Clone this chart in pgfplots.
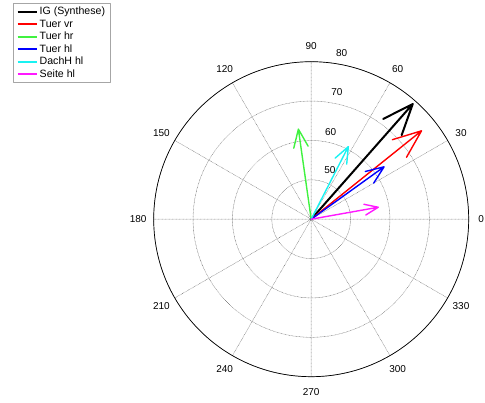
\documentclass[border=0pt]{standalone}
\usepackage{pgfplots}
\pgfplotsset{compat=1.18}
\usepgfplotslibrary{polar}
\usepackage{fontspec}
\setmainfont{Liberation Sans}
\definecolor{mgreen}{rgb}{0.25,0.95,0.25}
\definecolor{mcyan}{rgb}{0.1,0.95,0.95}
\definecolor{mmag}{rgb}{1,0.1,1}
\definecolor{mred}{rgb}{1,0,0}
\definecolor{mblue}{rgb}{0,0,1}
\begin{document}
\begin{tikzpicture}[x=1pt,y=1pt]
\coordinate (L) at (-298.2,215.7);
\begin{polaraxis}[
  at={(0pt,0pt)}, anchor=center,
  scale only axis, width=315pt, height=315pt,
  xmin=0, xmax=360, ymin=0, ymax=40,
  xtick={0,30,...,330}, xticklabels={},
  ytick={10,20,30,40}, yticklabels={},
  xmajorgrids, ymajorgrids,
  major grid style={densely dotted, black!55, line width=0.5pt},
  major tick length=0pt,
  axis line style={black, line width=0.7pt},
  y axis line style={draw=none},
  clip=false,
  legend style={at={(L)}, anchor=north west, draw=black!35,
    font=\fontsize{10.6}{11}\selectfont, row sep=-0.6pt, inner xsep=3.5pt, inner ysep=1.5pt,
    cells={anchor=west, inner xsep=3.5pt}},
  legend image code/.code={\draw[#1, line width=2pt] (0pt,0pt) -- (19pt,0pt);},
  line join=round, line cap=round,
]
\addplot[black, line width=2pt] coordinates {(0,0) (48.6,39.0) (54.3,31.36) (48.6,39.0) (42.9,31.36)};
\addlegendentry{IG (Synthese)}
\addplot[mred, line width=1.4pt] coordinates {(0,0) (38.7,35.9) (44.4,28.86) (38.7,35.9) (33.0,28.86)};
\addlegendentry{Tuer vr}
\addplot[mgreen, line width=1.4pt] coordinates {(0,0) (98.1,23.1) (103.8,18.57) (98.1,23.1) (92.4,18.57)};
\addlegendentry{Tuer hr}
\addplot[mblue, line width=1.4pt] coordinates {(0,0) (35.7,22.8) (41.4,18.33) (35.7,22.8) (30.0,18.33)};
\addlegendentry{Tuer hl}
\addplot[mcyan, line width=1.4pt] coordinates {(0,0) (62.9,20.7) (68.6,16.64) (62.9,20.7) (57.2,16.64)};
\addlegendentry{DachH hl}
\addplot[mmag, line width=1.4pt] coordinates {(0,0) (10.1,17.3) (15.8,13.91) (10.1,17.3) (4.4,13.91)};
\addlegendentry{Seite hl}
\end{polaraxis}
\begin{scope}[font=\fontsize{10}{12}\selectfont]
\node at (18.8,49.2) {50};
\node at (19.5,87.5) {60};
\node at (25.8,127.5) {70};
\node at (30.5,165.9) {80};
\foreach \a in {30,60,...,330} { \node at (\a:173) {\a}; }
\node[anchor=east, inner xsep=0.8pt] at (173.8,0) {0};
\end{scope}
\pgfresetboundingbox
\useasboundingbox (-311.2,-183.8) rectangle (173.8,219.2);
\end{tikzpicture}
\end{document}
